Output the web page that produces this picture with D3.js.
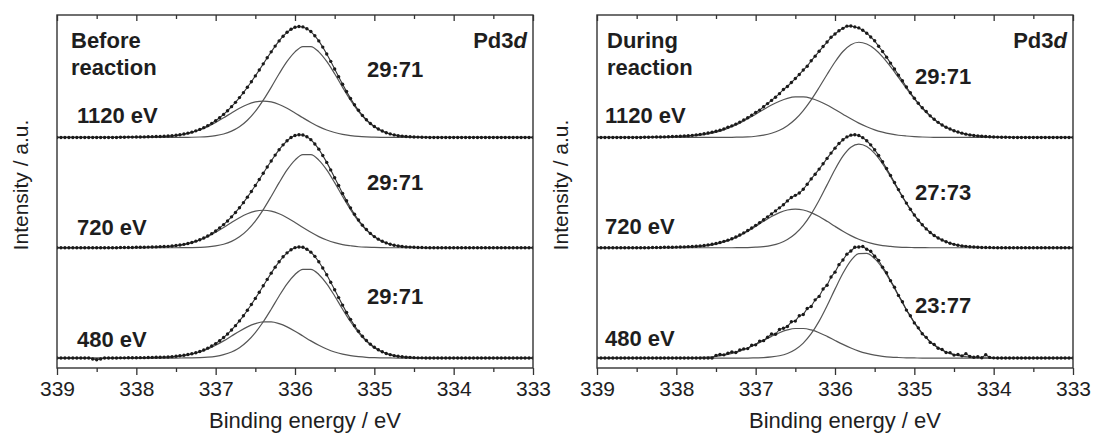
<!DOCTYPE html>
<html>
<head>
<meta charset="utf-8">
<script src="https://cdn.jsdelivr.net/npm/d3@7"></script>
<style>
  body { margin: 0; background: #fff; }
  text { font-family: "Liberation Sans", Arial, sans-serif; fill: #1e1e1e; }
</style>
</head>
<body>
<div class="chart"></div>
<script>
// Pd3d spectra. Intensities in arbitrary units, baseline = 0.
// Measured points every 0.05 eV from 339 to 333 eV (121 values),
// fitted components every 0.1 eV from 339 to 333 eV (61 values).

const energyTicks = [339, 338, 337, 336, 335, 334, 333];
const minorTicks = [338.5, 337.5, 336.5, 335.5, 334.5, 333.5];
const photonEnergies = ["480 eV", "720 eV", "1120 eV"];
const beforeRatios = ["29:71", "29:71", "29:71"];
const duringRatios = ["23:77", "27:73", "29:71"];

// ---- before reaction ----
const bef1120Data = [
  0,0,0,0,0,0,0,0,0,0,
  0,0,0,0,0,0,0.2,0.2,0.3,0.3,
  0.4,0.4,0.5,0.6,0.7,0.8,0.9,1.1,1.3,1.6,
  2.0,2.5,3.1,3.9,4.8,6.0,7.3,8.9,10.7,12.8,
  15.2,17.9,20.9,24.2,27.9,31.8,36.1,40.6,45.5,50.5,
  55.8,61.2,66.7,72.3,77.6,82.8,87.5,91.8,95.3,98.1,
  99.9,100.6,100.2,98.6,96.0,92.2,87.5,81.9,75.7,69.0,
  62.1,55.1,48.2,41.6,35.4,29.7,24.6,20.0,16.1,12.7,
  9.9,7.6,5.8,4.3,3.2,2.3,1.6,1.2,0.8,0.6,
  0.4,0.3,0.2,0.1,0,0,0,0,0,0,
  0,0,0,0,0,0,0,0,0,0,
  0,0,0,0,0,0,0,0,0,0,0
];
const bef1120Hi = [
  0,0,0,0,0,0,0,0,0,0,
  0.1,0.1,0.3,0.5,0.9,1.7,2.8,4.5,6.8,9.8,
  13.6,17.8,22.2,26.4,29.9,32.2,33.0,32.2,29.9,26.4,
  22.2,17.8,13.6,9.8,6.8,4.5,2.8,1.7,0.9,0.5,
  0.3,0.1,0,0,0,0,0,0,0,0,
  0,0,0,0,0,0,0,0,0,0,0
];
const bef1120Lo = [
  0,0,0,0,0,0,0,0,0,0,
  0,0,0,0,0,0,0.1,0.2,0.4,0.8,
  1.6,3.1,5.7,9.7,15.6,23.6,33.8,45.4,57.7,68.9,
  77.6,82.4,82.4,77.6,68.9,57.7,45.4,33.8,23.6,15.6,
  9.7,5.7,3.1,1.6,0.8,0.4,0.2,0.1,0,0,
  0,0,0,0,0,0,0,0,0,0,0
];

const bef720Data = [
  0,0,0,0,0,0,0,0,0,0,
  0,0,0,0,0,0,0.2,0.2,0.3,0.3,
  0.4,0.5,0.5,0.6,0.7,0.8,1.0,1.1,1.3,1.6,
  2.0,2.5,3.1,3.9,4.8,6.0,7.3,8.9,10.7,12.8,
  15.2,18.0,21.0,24.3,28.0,32.0,36.3,40.9,45.9,51.0,
  56.4,61.9,67.5,73.2,78.7,84.0,88.9,93.3,97.0,99.9,
  101.8,102.5,102.2,100.6,98.0,94.1,89.4,83.7,77.4,70.6,
  63.5,56.4,49.3,42.6,36.2,30.4,25.2,20.5,16.5,13.0,
  10.1,7.8,5.9,4.4,3.2,2.3,1.6,1.2,0.8,0.6,
  0.4,0.3,0.2,0.1,0,0,0,0,0,0,
  0,0,0,0,0,0,0,0,0,0,
  0,0,0,0,0,0,0,0,0,0,0
];
const bef720Hi = [
  0,0,0,0,0,0,0,0,0,0,
  0.1,0.1,0.3,0.5,0.9,1.8,2.9,4.6,7.0,10.1,
  14.0,18.3,22.9,27.2,30.8,33.2,34.0,33.2,30.8,27.2,
  22.9,18.3,14.0,10.1,7.0,4.6,2.9,1.8,0.9,0.5,
  0.3,0.1,0,0,0,0,0,0,0,0,
  0,0,0,0,0,0,0,0,0,0,0
];
const bef720Lo = [
  0,0,0,0,0,0,0,0,0,0,
  0,0,0,0,0,0,0.1,0.2,0.4,0.8,
  1.7,3.2,5.8,9.9,16.0,24.2,34.6,46.5,59.0,70.6,
  79.5,84.4,84.4,79.5,70.6,59.0,46.5,34.6,24.2,16.0,
  9.9,5.8,3.2,1.7,0.8,0.4,0.2,0.1,0,0,
  0,0,0,0,0,0,0,0,0,0,0
];

const bef480Data = [
  0,0,0,0,0,0,0,0,0,-0.8,
  -1.5,-0.8,0,0,0.1,0.1,0.2,0.2,0.3,0.3,
  0.3,0.4,0.4,0.5,0.6,0.7,0.8,0.9,1.0,1.3,
  1.6,2.1,2.6,3.2,3.9,4.8,6.0,7.3,9.0,10.9,
  13.1,15.7,18.6,21.8,25.5,29.4,33.7,38.3,43.3,48.6,
  54.1,59.7,65.5,71.3,77.0,82.4,87.3,91.8,95.4,98.2,
  100.1,100.7,100.4,98.7,96.0,92.2,87.3,81.7,75.5,68.8,
  61.9,54.8,48.0,41.3,35.1,29.4,24.3,19.8,15.9,12.6,
  9.8,7.5,5.7,4.2,3.1,2.2,1.6,1.2,0.8,0.6,
  0.4,0.2,0.2,0.1,0,0,0,0,0,0,
  0,0,0,0,0,0,0,0,0,0,
  0,0,0,0,0,0,0,0,0,0,0
];
const bef480Hi = [
  0,0,0,0,0,0,0,0,0,0,
  0,0.1,0.2,0.4,0.7,1.3,2.2,3.6,5.5,8.2,
  11.6,15.6,20.0,24.4,28.3,31.2,32.8,32.8,31.2,28.3,
  24.4,20.0,15.6,11.6,8.2,5.5,3.6,2.2,1.3,0.7,
  0.4,0.2,0.1,0,0,0,0,0,0,0,
  0,0,0,0,0,0,0,0,0,0,0
];
const bef480Lo = [
  0,0,0,0,0,0,0,0,0,0,
  0,0,0,0,0,0,0.1,0.2,0.4,0.8,
  1.6,3.1,5.5,9.4,15.2,23.1,32.9,44.3,56.3,67.3,
  75.8,80.4,80.4,75.8,67.3,56.3,44.3,32.9,23.1,15.2,
  9.4,5.5,3.1,1.6,0.8,0.4,0.2,0.1,0,0,
  0,0,0,0,0,0,0,0,0,0,0
];

// ---- during reaction ----
const dur1120Data = [
  0,0,0,0,0,0,0,0,0,0,
  0,0,0.2,0.2,0.3,0.4,0.4,0.5,0.6,0.8,
  1.0,1.1,1.4,1.6,1.9,2.3,2.8,3.3,4.0,4.8,
  5.6,6.6,7.8,9.3,10.5,12.1,13.9,15.9,17.9,20.2,
  22.7,24.8,27.8,30.7,33.6,36.5,39.7,43.5,46.2,49.8,
  53.4,57.1,61.1,64.6,69.5,73.7,78.1,82.4,86.5,90.8,
  93.8,96.7,98.9,100.9,101.0,100.2,99.3,97.2,94.5,91.1,
  87.6,82.7,77.9,72.8,67.4,62.0,56.5,51.4,45.7,40.5,
  35.6,31.0,26.9,23.5,19.6,16.5,13.7,11.3,9.3,7.6,
  6.1,4.9,3.9,3.0,2.3,1.8,1.4,1.1,0.8,0.6,
  0.4,0.3,0.2,0.2,0.1,0,0,0,0,0,
  0,0,0,0,0,0,0,0,0,0,0
];
const dur1120Hi = [
  0,0,0,0,0,0,0,0,0.1,0.2,
  0.4,0.8,1.3,2.0,3.2,4.8,6.9,9.7,13.0,16.9,
  21.1,25.3,29.4,32.8,35.4,36.7,36.7,35.4,32.8,29.4,
  25.3,21.1,16.9,13.0,9.7,6.9,4.8,3.2,2.0,1.3,
  0.8,0.4,0.2,0.1,0,0,0,0,0,0,
  0,0,0,0,0,0,0,0,0,0,0
];
const dur1120Lo = [
  0,0,0,0,0,0,0,0,0,0,
  0,0,0,0,0,0,0,0.1,0.3,0.5,
  1.1,2.1,3.8,6.5,10.7,16.5,24.4,34.1,45.3,57.1,
  68.4,77.9,84.1,86.3,84.7,80.2,73.1,64.2,54.4,44.4,
  34.9,26.4,19.3,13.6,9.2,6.0,3.8,2.3,1.4,0.8,
  0.4,0.2,0.1,0,0,0,0,0,0,0,0
];

const dur720Data = [
  0,0,0,0,0,0,0,0,0,0,
  0,0,0,0,0.2,0.2,0.3,0.4,0.4,0.5,
  0.6,0.7,0.8,1.0,1.1,1.4,1.7,2.1,2.6,3.2,
  3.9,4.8,5.8,6.9,8.2,9.8,11.6,13.5,15.6,17.9,
  20.3,22.8,25.4,28.0,30.7,33.4,36.2,39.0,42.5,45.5,
  47.5,49.6,53.0,57.6,62.4,66.7,71.3,76.1,81.0,85.8,
  90.3,94.5,97.9,100.5,102.1,102.5,101.7,99.8,97.0,93.3,
  88.8,83.7,78.0,71.9,65.6,59.1,52.7,46.5,40.5,34.9,
  29.7,25.0,20.8,17.1,13.9,11.1,8.9,7.0,5.4,4.1,
  3.1,2.3,1.7,1.3,0.9,0.7,0.5,0.3,0.2,0.2,
  0.1,0,0,0,0,0,0,0,0,0,
  0,0,0,0,0,0,0,0,0,0,0
];
const dur720Hi = [
  0,0,0,0,0,0,0,0,0,0.1,
  0.2,0.3,0.6,1.2,2.0,3.3,5.2,7.7,11.0,15.0,
  19.4,24.0,28.3,31.8,34.2,35.0,34.2,31.8,28.3,24.0,
  19.4,15.0,11.0,7.7,5.2,3.3,2.0,1.2,0.6,0.3,
  0.2,0.1,0,0,0,0,0,0,0,0,
  0,0,0,0,0,0,0,0,0,0,0
];
const dur720Lo = [
  0,0,0,0,0,0,0,0,0,0,
  0,0,0,0,0,0,0,0,0.1,0.2,
  0.5,1.0,2.1,4.1,7.5,12.7,20.3,30.5,43.0,57.0,
  71.0,83.0,91.1,94.0,91.8,85.5,76.0,64.4,52.1,40.2,
  29.5,20.7,13.9,8.9,5.4,3.1,1.7,0.9,0.5,0.2,
  0.1,0,0,0,0,0,0,0,0,0,0
];

const dur480Data = [
  0,0,0,0,0,0,0,0,0,0,
  0,0,0,0,0,0,0,0,0,0,
  0,0,0,0,0,0,0,0,0,0,
  2.4,3.3,2.9,4.4,5.6,5.0,7.4,8.3,8.6,11.6,
  12.0,15.4,15.8,18.9,21.8,21.6,25.9,27.0,28.6,32.9,
  33.5,38.4,39.5,44.9,46.8,52.8,55.9,62.6,66.0,73.5,
  77.9,84.7,88.9,94.2,97.1,100.4,100.7,101.2,98.6,96.8,
  92.3,88.6,82.4,77.3,70.2,64.3,56.8,51.0,43.5,38.3,
  31.9,27.4,22.0,18.8,14.2,12.3,8.9,7.8,5.1,4.9,
  2.7,3.2,2.0,4.0,1.5,0.8,1.2,0.3,3.0,0.6,
  0.2,0,0,0,0,0,0,0,0,0,
  0,0,0,0,0,0,0,0,0,0,0
];
const dur480Hi = [
  0,0,0,0,0,0,0,0,0,0,
  0,0.1,0.2,0.5,0.9,1.6,2.6,4.2,6.3,9.1,
  12.4,16.0,19.7,23.0,25.5,26.8,26.8,25.5,23.0,19.7,
  16.0,12.4,9.1,6.3,4.2,2.6,1.6,0.9,0.5,0.2,
  0.1,0,0,0,0,0,0,0,0,0,
  0,0,0,0,0,0,0,0,0,0,0
];
const dur480Lo = [
  0,0,0,0,0,0,0,0,0,0,
  0,0,0,0,0,0,0,0,0,0,
  0.2,0.4,1.0,2.1,4.2,7.8,13.6,22.1,33.5,47.4,
  62.5,76.9,88.4,94.7,94.9,90.1,81.3,69.6,56.6,43.7,
  32.1,22.3,14.8,9.3,5.5,3.1,1.7,0.9,0.4,0.2,
  0,0,0,0,0,0,0,0,0,0,0
];

// energy grids
const dataE = d3.range(121).map(i => 339 - 0.05 * i);
const fitE = d3.range(61).map(j => 339 - 0.1 * j);

const svgWidth = 1095, svgHeight = 434;
const plotTop = 15, plotBottom = 368;

// panels, bottom spectrum first
const panels = [
    {
        x0: 57, x1: 533, id: "before",
        title: ["Before", "reaction"], titleX: 71, evX: 77, ratioX: 367,
        ratios: beforeRatios, ratioY: [304, 190, 77], evY: [347, 235, 123],
        spectra: [
            { data: bef480Data, hi: bef480Hi, lo: bef480Lo },
            { data: bef720Data, hi: bef720Hi, lo: bef720Lo },
            { data: bef1120Data, hi: bef1120Hi, lo: bef1120Lo }
        ]
    },
    {
        x0: 597, x1: 1073, id: "during",
        title: ["During", "reaction"], titleX: 607, evX: 605, ratioX: 915,
        ratios: duringRatios, ratioY: [313, 200, 84], evY: [346, 234, 123],
        spectra: [
            { data: dur480Data, hi: dur480Hi, lo: dur480Lo },
            { data: dur720Data, hi: dur720Hi, lo: dur720Lo },
            { data: dur1120Data, hi: dur1120Hi, lo: dur1120Lo }
        ]
    }
];

const offsets = [0, 100, 200];

const svg = d3.select(".chart")
    .append("svg")
    .attr("width", svgWidth)
    .attr("height", svgHeight);

const yScale = d3.scaleLinear()
    .domain([-9, 311])
    .range([plotBottom, plotTop]);

panels.forEach(p => {
    const xScale = d3.scaleLinear()
        .domain([339, 333])
        .range([p.x0, p.x1]);

    svg.append("clipPath")
        .attr("id", "clip-" + p.id)
        .append("rect")
        .attr("x", p.x0)
        .attr("y", plotTop)
        .attr("width", p.x1 - p.x0)
        .attr("height", plotBottom - plotTop);

    const plot = svg.append("g").attr("clip-path", `url(#clip-${p.id})`);

    p.spectra.forEach((s, k) => {
        const off = offsets[k];

        // fitted components
        const fitLine = d3.line()
            .x((d, j) => xScale(fitE[j]))
            .y(d => yScale(d + off))
            .curve(d3.curveMonotoneX);

        [s.hi, s.lo].forEach(comp => {
            plot.append("path")
                .datum(comp)
                .attr("d", fitLine)
                .attr("fill", "none")
                .attr("stroke", "#555")
                .attr("stroke-width", 1.2);
        });

        // measured points
        const dataLine = d3.line()
            .x((d, i) => xScale(dataE[i]))
            .y(d => yScale(d + off));

        plot.append("path")
            .datum(s.data)
            .attr("d", dataLine)
            .attr("fill", "none")
            .attr("stroke", "#333")
            .attr("stroke-width", 1.1);

        plot.selectAll(null)
            .data(s.data)
            .enter()
            .append("circle")
            .attr("cx", (d, i) => xScale(dataE[i]))
            .attr("cy", d => yScale(d + off))
            .attr("r", 1.7)
            .attr("fill", "#1a1a1a");
    });

    // frame
    svg.append("rect")
        .attr("x", p.x0)
        .attr("y", plotTop)
        .attr("width", p.x1 - p.x0)
        .attr("height", plotBottom - plotTop)
        .attr("fill", "none")
        .attr("stroke", "#333")
        .attr("stroke-width", 1.4);

    // bottom axis, ticks out
    const bottomAxis = svg.append("g")
        .attr("transform", `translate(0, ${plotBottom})`)
        .call(d3.axisBottom(xScale)
            .tickValues(energyTicks)
            .tickSize(7)
            .tickPadding(6)
            .tickFormat(d3.format("d")));
    const bottomMinor = svg.append("g")
        .attr("transform", `translate(0, ${plotBottom})`)
        .call(d3.axisBottom(xScale).tickValues(minorTicks).tickSize(4).tickFormat(""));

    // top axis, ticks in
    const topAxis = svg.append("g")
        .attr("transform", `translate(0, ${plotTop})`)
        .call(d3.axisTop(xScale).tickValues(energyTicks).tickSize(-6).tickFormat(""));
    const topMinor = svg.append("g")
        .attr("transform", `translate(0, ${plotTop})`)
        .call(d3.axisTop(xScale).tickValues(minorTicks).tickSize(-4).tickFormat(""));

    [bottomAxis, bottomMinor, topAxis, topMinor].forEach(a => {
        a.select(".domain").remove();
        a.selectAll("line").attr("stroke", "#333").attr("stroke-width", 1.3);
        a.attr("font-family", null).attr("font-size", null);
    });
    bottomAxis.selectAll("text")
        .attr("font-size", 21)
        .attr("fill", "#222");

    // axis titles
    svg.append("text")
        .attr("x", (p.x0 + p.x1) / 2 + 10)
        .attr("y", 428)
        .attr("text-anchor", "middle")
        .attr("font-size", 22)
        .text("Binding energy / eV");

    svg.append("text")
        .attr("transform", `translate(${p.x0 - 29}, 185) rotate(-90)`)
        .attr("text-anchor", "middle")
        .attr("font-size", 21)
        .text("Intensity / a.u.");

    // panel annotations
    p.title.forEach((t, i) => {
        svg.append("text")
            .attr("x", p.titleX)
            .attr("y", 48 + i * 27)
            .attr("font-size", 22)
            .attr("font-weight", "bold")
            .text(t);
    });

    const pd = svg.append("text")
        .attr("x", p.x1 - 6)
        .attr("y", 48)
        .attr("text-anchor", "end")
        .attr("font-size", 22)
        .attr("font-weight", "bold");
    pd.append("tspan").text("Pd3");
    pd.append("tspan").attr("font-style", "italic").text("d");

    photonEnergies.forEach((t, k) => {
        svg.append("text")
            .attr("x", p.evX)
            .attr("y", p.evY[k])
            .attr("font-size", 22)
            .attr("font-weight", "bold")
            .text(t);
        svg.append("text")
            .attr("x", p.ratioX)
            .attr("y", p.ratioY[k])
            .attr("font-size", 22)
            .attr("font-weight", "bold")
            .text(p.ratios[k]);
    });
});
</script>
</body>
</html>
